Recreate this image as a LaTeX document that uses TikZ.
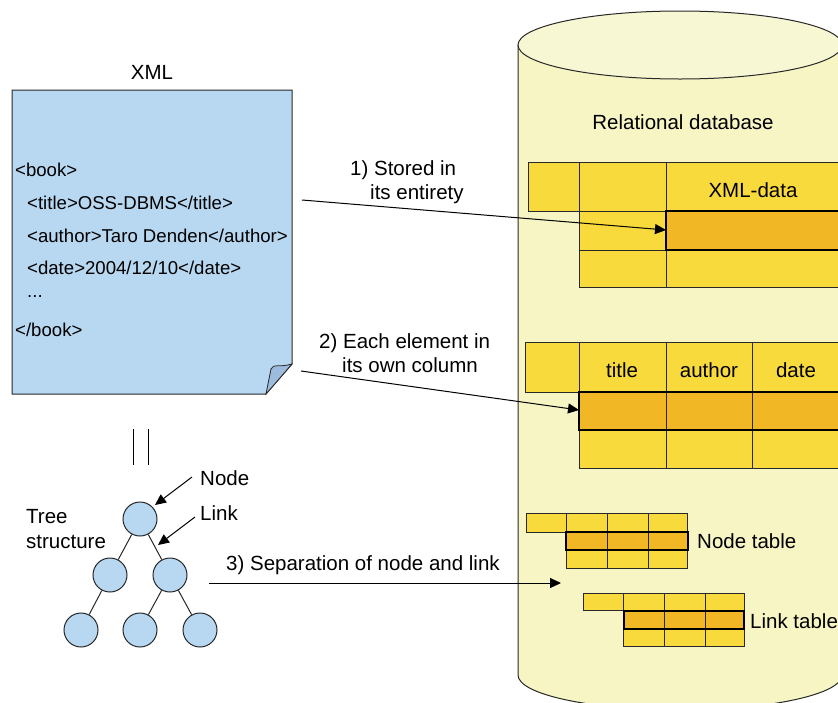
\documentclass[tikz,border=0pt]{standalone}
\usepackage{fontspec}
\setmainfont{Liberation Sans}
\usetikzlibrary{arrows.meta}
\definecolor{docblue}{RGB}{184,216,241}
\definecolor{flapblue}{RGB}{157,187,221}
\definecolor{cylside}{RGB}{247,245,196}
\definecolor{cyltop}{RGB}{247,247,212}
\definecolor{cellyel}{RGB}{248,218,60}
\definecolor{cellorg}{RGB}{242,183,36}
\definecolor{edge}{RGB}{40,40,40}
\tikzset{
  txt/.style={inner sep=0pt, font=\fontsize{20.5}{24}\selectfont, text=black},
  doctxt/.style={inner sep=0pt, font=\fontsize{18.6}{22}\selectfont, text=black},
  cell/.style={fill=cellyel, draw=edge, line width=1pt},
  hcell/.style={fill=cellorg, draw=edge, line width=1pt},
  hrow/.style={draw=black, line width=2pt},
  arr/.style={draw=black, line width=1pt, -{Triangle[length=11pt,width=10pt]}},
  tnode/.style={circle, draw=edge, line width=1pt, fill=docblue, minimum size=34pt, inner sep=0pt},
  tlink/.style={draw=edge, line width=1pt},
}
\begin{document}
\begin{tikzpicture}[x=1pt,y=-1pt]
\useasboundingbox (0,0) rectangle (838,702);
\clip (0,0) rectangle (838,702);
% cylinder
\path[fill=cylside, draw=edge, line width=1pt] (518,45) -- (518,675)
  arc[start angle=180, end angle=360, x radius=162pt, y radius=35pt] -- (842,45);
\draw[fill=cyltop, draw=edge, line width=1pt] (680,45) ellipse [x radius=162pt, y radius=34pt];
\node[txt] (rdb) at (683,122) {Relational database};

% table 1
\draw[cell] (528,162) rectangle (579,211);
\draw[cell] (579,162) rectangle (666,211);
\draw[cell] (666,162) rectangle (850,211);
\draw[cell] (579,211) rectangle (666,250);
\draw[hcell] (666,211) rectangle (850,250);
\draw[cell] (579,250) rectangle (666,287);
\draw[cell] (666,250) rectangle (850,287);
\draw[hrow] (666,211) rectangle (850,250);
\node[txt] (xmldata) at (753,190) {XML-data};
\coordinate (t1row) at (666,230);

% table 2
\draw[cell] (525,342) rectangle (579,392);
\draw[cell] (579,342) rectangle (666,392);
\draw[cell] (666,342) rectangle (752,392);
\draw[cell] (752,342) rectangle (850,392);
\draw[hcell] (579,392) rectangle (666,430);
\draw[hcell] (666,392) rectangle (752,430);
\draw[hcell] (752,392) rectangle (850,430);
\draw[cell] (579,430) rectangle (666,468);
\draw[cell] (666,430) rectangle (752,468);
\draw[cell] (752,430) rectangle (850,468);
\draw[hrow] (579,392) rectangle (850,430);
\node[txt] (ctitle) at (622,370) {title};
\node[txt] (cauthor) at (709,370) {author};
\node[txt] (cdate) at (796,370) {date};
\coordinate (t2row) at (579,410);

% node table
\draw[cell] (526,513) rectangle (566,532);
\foreach \a/\b in {566/607.5, 607.5/648.5, 648.5/687.5}{
  \draw[cell] (\a,513) rectangle (\b,532);
  \draw[hcell] (\a,532) rectangle (\b,550);
  \draw[cell] (\a,550) rectangle (\b,568.5);
}
\draw[hrow] (566,532) rectangle (687.5,550);
\node[txt, anchor=west] (nodetab) at (697,541) {Node table};

% link table
\draw[cell] (583,593) rectangle (623.5,610.5);
\foreach \a/\b in {623.5/664, 664/705, 705/744}{
  \draw[cell] (\a,593) rectangle (\b,610.5);
  \draw[hcell] (\a,610.5) rectangle (\b,628.5);
  \draw[cell] (\a,628.5) rectangle (\b,646.5);
}
\draw[hrow] (623.5,610.5) rectangle (744,628.5);
\node[txt, anchor=west] (linktab) at (750,621) {Link table};
\coordinate (t3end) at (561,583);

% XML document
\node[txt] (xmltitle) at (152,72) {XML};
\draw[fill=docblue, draw=edge, line width=1pt] (12,90) -- (292,90) -- (292,364) -- (266,394) -- (12,394) -- cycle;
\draw[fill=flapblue, draw=edge, line width=0.8pt] (266,394) -- (271,369) .. controls (274,363) and (278,368) .. (292,364) -- cycle;
\node[doctxt, anchor=west] (l1) at (15,170) {<book>};
\node[doctxt, anchor=west] (l2) at (27,203) {<title>OSS-DBMS</title>};
\node[doctxt, anchor=west] (l3) at (27,236) {<author>Taro Denden</author>};
\node[doctxt, anchor=west] (l4) at (27,268) {<date>2004/12/10</date>};
\node[doctxt, anchor=west] (l5) at (27,296) {...};
\node[doctxt, anchor=west] (l6) at (15,330) {</book>};
\coordinate (a1s) at (302,200);
\coordinate (a2s) at (301,371);

% arrows 1 and 2
\node[txt, anchor=west, align=left] (lab1) at (350,182.5) {1) Stored in\\\hspace*{20pt}its entirety};
\draw[arr] (a1s) -- (t1row);
\node[txt, anchor=west, align=left] (lab2) at (319,353) {2) Each element in\\\hspace*{23pt}its own column};
\draw[arr] (a2s) -- (t2row);

% tree
\draw[line width=1pt] (133,429) -- (133,465);
\draw[line width=1pt] (148,429) -- (148,465);
\node[tnode] (r) at (140,519) {};
\node[tnode] (c1) at (110,575) {};
\node[tnode] (c2) at (170,575) {};
\node[tnode] (g1) at (81,630) {};
\node[tnode] (g2) at (140,630) {};
\node[tnode] (g3) at (200,630) {};
\draw[tlink] (r) -- (c1);
\draw[tlink] (r) -- (c2);
\draw[tlink] (c1) -- (g1);
\draw[tlink] (c2) -- (g2);
\draw[tlink] (c2) -- (g3);
\node[txt, anchor=west] (nodelab) at (200,478) {Node};
\node[txt, anchor=west] (linklab) at (200,513) {Link};
\coordinate (nls) at (192,477);
\coordinate (nle) at (155,505);
\coordinate (lls) at (195,517);
\coordinate (lle) at (158,545);
\draw[arr] (nls) -- (nle);
\draw[arr] (lls) -- (lle);
\node[txt, anchor=west, align=left, font=\fontsize{20.5}{25.5}\selectfont] (treelab) at (26,529) {Tree\\structure};

% arrow 3
\node[txt, anchor=west] (lab3) at (226,565) {3) Separation of node and link};
\coordinate (a3s) at (209,583);
\draw[arr] (a3s) -- (t3end);
\end{tikzpicture}
\end{document}
